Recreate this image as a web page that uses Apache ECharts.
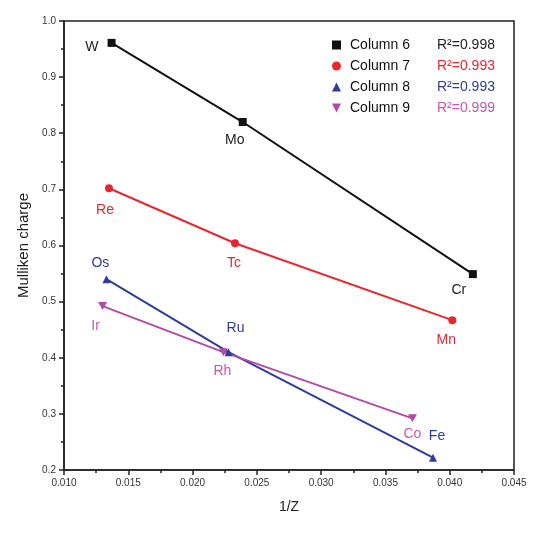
<!DOCTYPE html>
<html><head><meta charset="utf-8">
<script src="https://cdn.jsdelivr.net/npm/echarts@6/dist/echarts.min.js"></script>
<style>html,body{margin:0;padding:0;background:#fff}#c{width:534px;height:534px}</style>
</head><body><div id="c"></div>
<script>
// ---- data ----
const seriesNames = ['Column 6', 'Column 7', 'Column 8', 'Column 9'];
const r2Labels = ['R²=0.998', 'R²=0.993', 'R²=0.993', 'R²=0.999'];
const col6Elements = ['W', 'Mo', 'Cr'];
const col6X = [0.0137, 0.0239, 0.0418];
const col6Y = [0.961, 0.820, 0.549];
const col7Elements = ['Re', 'Tc', 'Mn'];
const col7X = [0.0135, 0.0233, 0.0402];
const col7Y = [0.702, 0.604, 0.467];
const col8Elements = ['Os', 'Ru', 'Fe'];
const col8X = [0.0133, 0.0228, 0.0387];
const col8Y = [0.540, 0.410, 0.222];
const col9Elements = ['Ir', 'Rh', 'Co'];
const col9X = [0.0130, 0.0224, 0.0371];
const col9Y = [0.492, 0.410, 0.292];
const xTicks = ['0.010','0.015','0.020','0.025','0.030','0.035','0.040','0.045'];
const yTicks = ['0.2','0.3','0.4','0.5','0.6','0.7','0.8','0.9','1.0'];

// ---- styles ----
const FONT = 'Liberation Sans, Arial, sans-serif';
const colors = ['#111111', '#e8262e', '#2f3c9c', '#b54aa6'];
const labelColors = ['#222222', '#e8262e', '#2f3c9c', '#c657b4'];
const symbols = ['rect', 'circle', 'triangle', 'path://M0,0 L10,0 L5,10 Z'];
const labelPos = [
  [{position:'left', offset:[-4,4]}, {position:'bottom', offset:[-8,2]}, {position:'bottom', offset:[-14,0]}],
  [{position:'bottom', offset:[-4,6]}, {position:'bottom', offset:[-1,4]}, {position:'bottom', offset:[-6,4]}],
  [{position:'top', offset:[-6,0]}, {position:'top', offset:[7,-8]}, {position:'top', offset:[4,-6]}],
  [{position:'bottom', offset:[-7,4]}, {position:'bottom', offset:[-1,3]}, {position:'bottom', offset:[0,0]}]
];

const allX = [col6X, col7X, col8X, col9X];
const allY = [col6Y, col7Y, col8Y, col9Y];
const allEl = [col6Elements, col7Elements, col8Elements, col9Elements];

const series = seriesNames.map((name, i) => ({
  name: name,
  type: 'line',
  symbol: symbols[i],
  symbolSize: i === 3 ? [9, 8] : 8,
  lineStyle: {color: colors[i], width: 2},
  itemStyle: {color: colors[i]},
  data: allX[i].map((x, j) => ({
    value: [x, allY[i][j]],
    name: allEl[i][j],
    label: Object.assign({show: true, formatter: '{b}', color: labelColors[i],
      fontSize: 14, fontFamily: FONT}, labelPos[i][j])
  }))
}));

const rich = {n: {color: '#111', fontSize: 14, width: 87, fontFamily: FONT}};
r2Labels.forEach((t, i) => { rich['r' + i] = {color: labelColors[i], fontSize: 14, fontFamily: FONT}; });

const chart = echarts.init(document.getElementById('c'), null, {renderer: 'canvas'});
chart.setOption({
  animation: false,
  backgroundColor: '#fff',
  grid: {left: 64, right: 20, top: 21, bottom: 64, show: true, borderColor: '#222', borderWidth: 1.5},
  legend: {
    orient: 'vertical', left: 327, top: 33, itemGap: 7, itemWidth: 9, itemHeight: 9,
    data: seriesNames.map((n, i) => ({name: n, icon: symbols[i]})),
    formatter: function (name) { const i = seriesNames.indexOf(name); return '{n|' + name + '}{r' + i + '|' + r2Labels[i] + '}'; },
    textStyle: {rich: rich, padding: [0, 0, 0, 4]}
  },
  xAxis: {
    type: 'value', min: 0.010, max: 0.045, interval: 0.005,
    name: '1/Z', nameLocation: 'middle', nameGap: 30,
    nameTextStyle: {color: '#222', fontSize: 14, fontFamily: FONT},
    axisLine: {lineStyle: {color: '#222', width: 1.5}},
    axisTick: {show: true, inside: false, length: 5, lineStyle: {color: '#222', width: 1.5}},
    minorTick: {show: true, splitNumber: 2, length: 3, lineStyle: {color: '#222', width: 1.5}},
    splitLine: {show: false},
    axisLabel: {color: '#333', fontSize: 10, margin: 8, fontFamily: FONT,
      formatter: function (v) { return xTicks[Math.round((v - 0.010) / 0.005)]; }}
  },
  yAxis: {
    type: 'value', min: 0.2, max: 1.0, interval: 0.1,
    name: 'Mulliken charge', nameLocation: 'middle', nameGap: 26,
    nameTextStyle: {color: '#222', fontSize: 15, fontFamily: FONT},
    axisLine: {show: true, lineStyle: {color: '#222', width: 1.5}},
    axisTick: {show: true, inside: false, length: 5, lineStyle: {color: '#222', width: 1.5}},
    minorTick: {show: true, splitNumber: 2, length: 3, lineStyle: {color: '#222', width: 1.5}},
    splitLine: {show: false},
    axisLabel: {color: '#333', fontSize: 10, margin: 8, fontFamily: FONT,
      formatter: function (v) { return yTicks[Math.round((v - 0.2) / 0.1)]; }}
  },
  series: series
});
</script></body></html>
